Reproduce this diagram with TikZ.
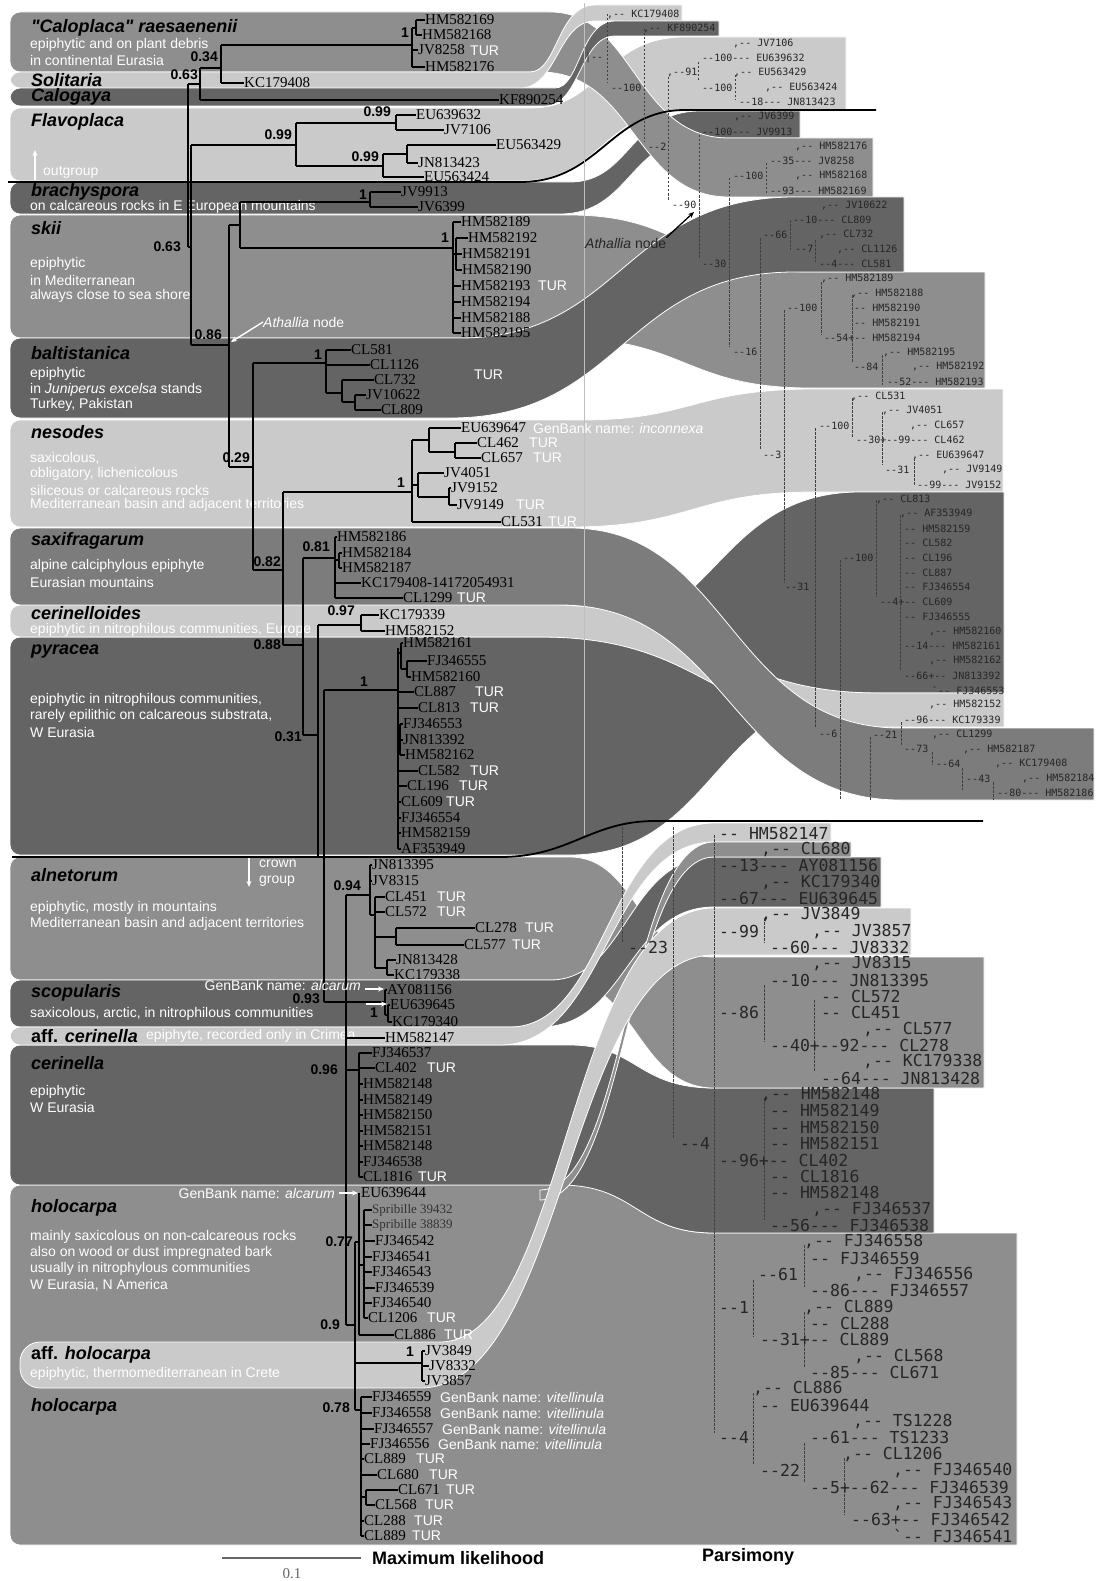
\documentclass[tikz,border=0pt]{standalone}
\usepackage{fontspec}
\setmainfont{Liberation Serif}
\newfontfamily\sansf{Liberation Sans}
\newfontfamily\monof[Ligatures=TeXOff]{DejaVu Sans Mono}
\usetikzlibrary{arrows.meta}
\definecolor{bandD}{RGB}{100,100,100}
\definecolor{bandM}{RGB}{142,142,142}
\definecolor{bandS}{RGB}{124,124,124}
\definecolor{bandL}{RGB}{202,202,202}
\newcounter{autonode}
\newcommand\tipl[4]{\node[tip] (#1) at (#2,#3) {#4};}
\newcommand\tur[2]{\stepcounter{autonode}\node[turs] (tur\arabic{autonode}) at (#1,#2) {TUR};}
\newcommand\spv[3]{\stepcounter{autonode}\node[supp] (sv\arabic{autonode}) at (#1,#2) {#3};}
\newcommand\pss[3]{\stepcounter{autonode}\node[pms] (ps\arabic{autonode}) at (#1,{14+14.7*#2}) {#3};}
\newcommand\plg[3]{\stepcounter{autonode}\node[pml] (pl\arabic{autonode}) at (#1,{833+16.35*#2}) {#3};}
\newcommand\sbt[3]{\stepcounter{autonode}\node[subt] (sb\arabic{autonode}) at (#1,#2) {#3};}
\newcommand\ctitle[3]{\stepcounter{autonode}\node[ttls] (tt\arabic{autonode}) at (#1,#2) {#3};}
\newcommand\gbk[3]{\stepcounter{autonode}\node[subt] (gb\arabic{autonode}) at (#1,#2) {GenBank name: \textit{#3}};}
\def\ribr{10pt}
\newcommand\rib[9]{%
  \pgfmathsetmacro\xmA{#5+0.5*(#6-#5)}%
  \fill[#1,draw=white,line width=0.8pt] (#5,#3) .. controls (\xmA,#3) and (\xmA,#7) .. (#6,#7) -- (#9,#7) -- (#9,#8) -- (#6,#8) .. controls (\xmA,#8) and (\xmA,#4) .. (#5,#4) [rounded corners=\ribr] -- (#2,#4) -- (#2,#3) -- cycle;}
\begin{document}
\begin{tikzpicture}[x=1pt,y=-1pt,
  br/.style={line width=1.3pt,black},
  tip/.style={anchor=west,inner sep=0pt,font=\fontsize{15}{15}\selectfont},
  tipsm/.style={anchor=west,inner sep=0pt,text=black!80,font=\fontsize{13}{13}\selectfont},
  turs/.style={anchor=west,inner sep=0pt,text=white,font=\sansf\fontsize{14}{14}\selectfont},
  supp/.style={anchor=east,inner sep=0pt,font=\sansf\bfseries\fontsize{14}{14}\selectfont},
  ttls/.style={anchor=west,inner sep=0pt,font=\sansf\bfseries\itshape\fontsize{18}{18}\selectfont},
  subt/.style={anchor=west,inner sep=0pt,text=white,font=\sansf\fontsize{14}{14}\selectfont},
  pms/.style={anchor=west,inner sep=0pt,text=black!85,font=\monof\fontsize{10}{10}\selectfont},
  pml/.style={anchor=west,inner sep=0pt,text=black!85,font=\monof\fontsize{16.5}{16.5}\selectfont},
  pd/.style={black!75,line width=0.9pt,dash pattern=on 2.5pt off 1.5pt},
  wa/.style={white,line width=1.4pt,-{Stealth[length=6pt,width=5pt]}},
  bigl/.style={anchor=west,inner sep=0pt,font=\sansf\bfseries\fontsize{18}{18}\selectfont}]
\useasboundingbox (0,0) rectangle (1101,1581);
\fill[white] (0,0) rectangle (1101,1581);
% ---------- bands and ribbons ----------
\rib{bandL}{10}{108}{181}{520}{685}{37}{110}{846}
\rib{bandD}{10}{182}{214}{560}{700}{111}{138}{800}
\rib{bandM}{10}{12}{72}{540}{729}{138}{197}{873}
\rib{bandL}{10}{72}{88}{520}{595}{5}{21}{682}
\rib{bandD}{10}{88}{106}{545}{615}{21}{36}{719}
\rib{bandM}{10}{215}{338}{560}{810}{272}{388}{985}
\rib{bandD}{10}{338}{418}{450}{795}{197}{272}{904}
\rib{bandL}{10}{420}{527}{570}{815}{389}{492}{1003}
\rib{bandD}{10}{637}{855}{570}{860}{492}{693}{1004}
\rib{bandL}{10}{605}{637}{540}{880}{693}{727}{1004}
\rib{bandS}{10}{528}{605}{560}{900}{728}{800}{1094}
\rib{bandM}{10}{1185}{1545}{560}{714}{1233}{1545}{1017}
\rib{bandD}{10}{1045}{1185}{560}{714}{1088}{1233}{934}
\rib{bandM}{10}{857}{980}{560}{714}{957}{1088}{984}
\rib{bandD}{10}{980}{1027}{540}{714}{857}{907}{881}
\rib{bandL}{10}{1027}{1045}{500}{714}{823}{842}{831}
\fill[bandM,draw=white,line width=0.8pt] (540,1190) .. controls (627,1190) and (627,842) .. (714,842) -- (851,842) -- (851,857) -- (714,857) .. controls (627,857) and (627,1200) .. (540,1200) -- cycle;
\def\ribr{20pt}
\rib{bandL}{20}{1342}{1388}{420}{714}{908}{955}{911}
\def\ribr{10pt}
% boundary lines
\draw[line width=1.8pt] (8,182) -- (520,182) .. controls (600,182) and (610,110) .. (685,110) -- (876,110);
\draw[line width=1.8pt] (12,857) -- (500,857) .. controls (570,857) and (590,821) .. (655,821) -- (983,821);
\draw[black!25,line width=0.8pt] (584,3) -- (584,835);
% ---------- titles ----------
\ctitle{31}{28}{"Caloplaca" raesaenenii}
\ctitle{31}{80}{Solitaria}
\ctitle{31}{97}{Calogaya}
\ctitle{31}{122}{Flavoplaca}
\ctitle{31}{192}{brachyspora}
\ctitle{31}{228}{skii}
\ctitle{31}{353}{baltistanica}
\ctitle{31}{432}{nesodes}
\ctitle{31}{541}{saxifragarum}
\ctitle{31}{613}{cerinelloides}
\ctitle{31}{652}{pyracea}
\ctitle{31}{875}{alnetorum}
\ctitle{31}{993}{scopularis}
\ctitle{31}{1036}{{\upshape aff.} cerinella}
\ctitle{31}{1063}{cerinella}
\ctitle{31}{1208}{holocarpa}
\ctitle{31}{1355}{{\upshape aff.} holocarpa}
\ctitle{31}{1407}{holocarpa}
% ---------- descriptions ----------
\sbt{30}{45}{epiphytic and on plant debris}
\sbt{30}{60}{in continental Eurasia}
\sbt{30}{207}{on calcareous rocks in E European mountains}
\sbt{30}{264}{epiphytic}
\sbt{30}{280}{in Mediterranean}
\sbt{30}{296}{always close to sea shore}
\sbt{30}{374}{epiphytic}
\sbt{30}{390}{in \textit{Juniperus excelsa} stands}
\sbt{30}{405}{Turkey, Pakistan}
\sbt{30}{458}{saxicolous,}
\sbt{30}{474}{obligatory, lichenicolous}
\sbt{30}{490}{siliceous or calcareous rocks}
\sbt{30}{505}{Mediterranean basin and adjacent territories}
\sbt{30}{566}{alpine calciphylous epiphyte}
\sbt{30}{582}{Eurasian mountains}
\sbt{30}{630}{epiphytic in nitrophilous communities, Europe}
\sbt{30}{700}{epiphytic in nitrophilous communities,}
\sbt{30}{716}{rarely epilithic on calcareous substrata,}
\sbt{30}{732}{W Eurasia}
\sbt{30}{908}{epiphytic, mostly in mountains}
\sbt{30}{924}{Mediterranean basin and adjacent territories}
\sbt{30}{1014}{saxicolous, arctic, in nitrophilous communities}
\sbt{146}{1036}{epiphyte, recorded only in Crimea}
\sbt{30}{1092}{epiphytic}
\sbt{30}{1107}{W Eurasia}
\sbt{30}{1237}{mainly saxicolous on non-calcareous rocks}
\sbt{30}{1253}{also on wood or dust impregnated bark}
\sbt{30}{1269}{usually in nitrophylous communities}
\sbt{30}{1285}{W Eurasia, N America}
\sbt{30}{1374}{epiphytic, thermomediterranean in Crete}
% annotations
\sbt{43}{172}{outgroup}
\draw[wa] (35,180) -- (35,150);
\sbt{259}{864}{crown}
\sbt{259}{881}{group}
\draw[wa] (249,858) -- (249,887);
\node[subt] (athL) at (263,322) {\textit{Athallia} node};
\draw[wa] (athL.west) -- (231,342);
\node[subt,text=black!85] (athR) at (585,243) {\textit{Athallia} node};
\draw[line width=1.3pt,-{Stealth[length=6pt,width=5pt]}] (athR.north east) -- (694,212);
% ---------- ML tree: outgroup ----------
\tipl{a1}{425}{20}{HM582169}
\tipl{a2}{422}{35}{HM582168}
\tipl{a3}{418}{50}{JV8258}\tur{470}{51}
\tipl{a4}{425}{67}{HM582176}
\tipl{a5}{244}{83}{KC179408}
\tipl{a6}{499}{100}{KF890254}
\draw[br] (188,84)--(188,247) (188,84)--(200,84) (200,68)--(200,100) (200,68)--(221,68) (221,45)--(221,83) (221,45)--(412,45) (412,28)--(412,67) (412,28)--(416,28) (416,20)--(416,35);
\draw[br] (416,20)--(a1.west) (416,35)--(a2.west) (412,50)--(a3.west) (412,67)--(a4.west) (221,83)--(a5.west) (200,100)--(a6.west);
\spv{409}{33}{1}\spv{218}{57}{0.34}\spv{198}{75}{0.63}
% Flavoplaca
\tipl{f1}{416}{115}{EU639632}
\tipl{f2}{444}{130}{JV7106}
\tipl{f3}{496}{145}{EU563429}
\tipl{f4}{418}{163}{JN813423}
\tipl{f5}{424}{177}{EU563424}
\draw[br] (188,247)--(191,247) (191,145)--(191,345) (191,145)--(296,145) (296,123)--(296,166) (296,123)--(396,123) (396,115)--(396,130) (296,166)--(383,166) (383,154)--(383,177) (383,154)--(407,154) (407,145)--(407,163);
\draw[br] (396,115)--(f1.west) (396,130)--(f2.west) (407,145)--(f3.west) (407,163)--(f4.west) (383,177)--(f5.west);
\spv{181}{247}{0.63}\spv{292}{135}{0.99}\spv{391}{112}{0.99}\spv{379}{157}{0.99}
% brachyspora + skii
\tipl{b1}{401}{192}{JV9913}
\tipl{b2}{418}{207}{JV6399}
\tipl{s1}{461}{222}{HM582189}
\tipl{s2}{468}{238}{HM582192}
\tipl{s3}{462}{254}{HM582191}
\tipl{s4}{462}{270}{HM582190}
\tipl{s5}{461}{286}{HM582193}\tur{538}{286}
\tipl{s6}{461}{302}{HM582194}
\tipl{s7}{461}{318}{HM582188}
\tipl{s8}{461}{333}{HM582195}
\draw[br] (191,345)--(229,345) (229,225)--(229,467) (229,225)--(240,225) (240,202)--(240,248) (240,202)--(370,202) (370,192)--(370,207) (240,248)--(453,248) (453,222)--(453,333) (453,254)--(456,254) (456,238)--(456,270);
\draw[br] (370,192)--(b1.west) (370,207)--(b2.west) (453,222)--(s1.west) (456,238)--(s2.west) (456,254)--(s3.west) (456,270)--(s4.west) (453,286)--(s5.west) (453,302)--(s6.west) (453,318)--(s7.west) (453,333)--(s8.west);
\spv{367}{195}{1}\spv{449}{238}{1}\spv{222}{335}{0.86}
% baltistanica
\tipl{c1}{351}{350}{CL581}
\tipl{c2}{370}{365}{CL1126}
\tipl{c3}{374}{380}{CL732}
\tipl{c4}{366}{395}{JV10622}
\tipl{c5}{381}{410}{CL809}
\tur{474}{375}
\draw[br] (229,467)--(253,467) (253,363)--(253,570) (253,363)--(326,363) (326,350)--(326,393) (326,393)--(342,393) (342,380)--(342,402) (342,402)--(355,402) (355,395)--(355,410);
\draw[br] (326,350)--(c1.west) (326,365)--(c2.west) (342,380)--(c3.west) (355,395)--(c4.west) (355,410)--(c5.west);
\spv{250}{458}{0.29}\spv{322}{355}{1}
% nesodes
\tipl{n1}{461}{428}{EU639647}\gbk{533}{428}{inconnexa}
\tipl{n2}{477}{443}{CL462}\tur{529}{443}
\tipl{n3}{481}{458}{CL657}\tur{533}{458}
\tipl{n4}{444}{473}{JV4051}
\tipl{n5}{451}{488}{JV9152}
\tipl{n6}{457}{505}{JV9149}\tur{516}{505}
\tipl{n7}{501}{522}{CL531}\tur{548}{522}
\draw[br] (253,570)--(283,570) (283,492)--(283,645) (283,492)--(412,492) (412,440)--(412,522) (412,440)--(429,440) (429,428)--(429,452) (429,452)--(455,452) (455,443)--(455,458) (412,485)--(418,485) (418,473)--(418,497) (418,497)--(449,497) (449,488)--(449,505);
\draw[br] (429,428)--(n1.west) (455,443)--(n2.west) (455,458)--(n3.west) (418,473)--(n4.west) (449,488)--(n5.west) (449,505)--(n6.west) (412,522)--(n7.west);
\spv{281}{562}{0.82}\spv{405}{483}{1}
% saxifragarum
\tipl{x1}{337}{537}{HM582186}
\tipl{x2}{342}{553}{HM582184}
\tipl{x3}{342}{568}{HM582187}
\tipl{x4}{361}{583}{KC179408-14172054931}
\tipl{x5}{403}{598}{CL1299}\tur{457}{598}
\draw[br] (283,645)--(303,645) (303,558)--(303,735) (303,558)--(335,558) (335,537)--(335,598) (335,560)--(339,560) (339,553)--(339,568);
\draw[br] (335,537)--(x1.west) (339,553)--(x2.west) (339,568)--(x3.west) (335,583)--(x4.west) (335,598)--(x5.west);
\spv{281}{645}{0.88}\spv{330}{547}{0.81}
% cerinelloides + pyracea
\tipl{e1}{379}{615}{KC179339}
\tipl{e2}{385}{631}{HM582152}
\draw[br] (303,735)--(318,735) (318,625)--(318,857) (318,625)--(361,625) (361,615)--(361,631) (361,615)--(e1.west) (361,631)--(e2.west);
\spv{302}{737}{0.31}\spv{355}{611}{0.97}
\tipl{p1}{403}{643}{HM582161}
\tipl{p2}{427}{661}{FJ346555}
\tipl{p3}{411}{677}{HM582160}
\tipl{p4}{414}{692}{CL887}\tur{475}{692}
\tipl{p5}{418}{708}{CL813}\tur{470}{708}
\tipl{p6}{403}{724}{FJ346553}
\tipl{p7}{403}{740}{JN813392}
\tipl{p8}{405}{755}{HM582162}
\tipl{p9}{418}{771}{CL582}\tur{470}{771}
\tipl{p10}{407}{786}{CL196}\tur{459}{786}
\tipl{p11}{401}{802}{CL609}\tur{446}{802}
\tipl{p12}{401}{818}{FJ346554}
\tipl{p13}{401}{833}{HM582159}
\tipl{p14}{401}{849}{AF353949}
\draw[br] (324,690)--(324,1002) (324,690)--(398,690) (398,648)--(398,849) (398,653)--(401,653) (401,643)--(401,669) (401,669)--(407,669) (407,661)--(407,677) (398,740)--(400,740) (400,724)--(400,755);
\draw[br] (401,643)--(p1.west) (407,661)--(p2.west) (407,677)--(p3.west) (398,692)--(p4.west) (398,708)--(p5.west) (400,724)--(p6.west) (400,740)--(p7.west) (400,755)--(p8.west) (398,771)--(p9.west) (398,786)--(p10.west) (398,802)--(p11.west) (398,818)--(p12.west) (398,833)--(p13.west) (398,849)--(p14.west);
\spv{368}{682}{1}
% ---------- crown group ----------
\tipl{g1}{372}{865}{JN813395}
\tipl{g2}{372}{881}{JV8315}
\tipl{g3}{385}{897}{CL451}\tur{437}{897}
\tipl{g4}{385}{912}{CL572}\tur{437}{912}
\tipl{g5}{475}{928}{CL278}\tur{525}{928}
\tipl{g6}{464}{945}{CL577}\tur{512}{945}
\tipl{g7}{396}{960}{JN813428}
\tipl{g8}{394}{975}{KC179338}
\draw[br] (324,1002)--(385,1002) (346,895)--(346,1325) (346,895)--(370,895) (370,865)--(370,915) (370,915)--(375,915) (375,897)--(375,968) (375,937)--(396,937) (396,928)--(396,945) (375,968)--(387,968) (387,960)--(387,975);
\draw[br] (370,865)--(g1.west) (370,881)--(g2.west) (375,897)--(g3.west) (375,912)--(g4.west) (396,928)--(g5.west) (396,945)--(g6.west) (387,960)--(g7.west) (387,975)--(g8.west);
\spv{320}{999}{0.93}\spv{361}{886}{0.94}
% scopularis
\tipl{h1}{387}{990}{AY081156}
\tipl{h2}{390}{1005}{EU639645}
\tipl{h3}{392}{1022}{KC179340}
\draw[br] (385,990)--(385,1015) (385,1015)--(388,1015) (388,1005)--(388,1022) (385,990)--(h1.west) (388,1005)--(h2.west) (388,1022)--(h3.west);
\node[subt,anchor=east] (gbs) at (361,985) {GenBank name: \textit{alcarum}};
\draw[wa] (365,989) -- (384,989);
\draw[wa] (366,1004) -- (387,1004);
\spv{378}{1013}{1}
% aff. cerinella
\tipl{k1}{385}{1038}{HM582147}
\draw[br] (346,1038)--(k1.west);
% cerinella
\tipl{m1}{372}{1053}{FJ346537}
\tipl{m2}{375}{1068}{CL402}\tur{427}{1068}
\tipl{m3}{363}{1084}{HM582148}
\tipl{m4}{363}{1100}{HM582149}
\tipl{m5}{363}{1115}{HM582150}
\tipl{m6}{363}{1131}{HM582151}
\tipl{m7}{363}{1146}{HM582148}
\tipl{m8}{363}{1162}{FJ346538}
\tipl{m9}{363}{1177}{CL1816}\tur{418}{1177}
\draw[br] (346,1070)--(359,1070) (359,1053)--(359,1177);
\draw[br] (359,1053)--(m1.west) (359,1068)--(m2.west) (359,1084)--(m3.west) (359,1100)--(m4.west) (359,1115)--(m5.west) (359,1131)--(m6.west) (359,1146)--(m7.west) (359,1162)--(m8.west) (359,1177)--(m9.west);
\spv{338}{1070}{0.96}
% holocarpa
\tipl{q0}{361}{1193}{EU639644}
\node[subt,anchor=east] (gbh) at (335,1193) {GenBank name: \textit{alcarum}};
\draw[wa] (339,1193) -- (358,1193);
\node[tipsm] (q1) at (372,1210) {Spribille 39432};
\node[tipsm] (q2) at (372,1225) {Spribille 38839};
\tipl{q3}{375}{1241}{FJ346542}
\tipl{q4}{372}{1257}{FJ346541}
\tipl{q5}{372}{1272}{FJ346543}
\tipl{q6}{375}{1288}{FJ346539}
\tipl{q7}{372}{1303}{FJ346540}
\tipl{q8}{368}{1318}{CL1206}\tur{427}{1318}
\tipl{q9}{394}{1335}{CL886}\tur{444}{1335}
\draw[br] (346,1325)--(355,1325) (355,1242)--(355,1410) (355,1242)--(359,1242) (359,1193)--(359,1335) (359,1265)--(364,1265) (364,1210)--(364,1318);
\draw[br] (364,1210)--(q1.west) (364,1225)--(q2.west) (364,1241)--(q3.west) (364,1257)--(q4.west) (364,1272)--(q5.west) (364,1288)--(q6.west) (364,1303)--(q7.west) (364,1318)--(q8.west) (359,1335)--(q9.west);
\spv{340}{1325}{0.9}\spv{353}{1242}{0.77}
% aff. holocarpa
\tipl{r1}{425}{1351}{JV3849}
\tipl{r2}{429}{1366}{JV8332}
\tipl{r3}{425}{1381}{JV3857}
\draw[br] (355,1363)--(422,1363) (422,1351)--(422,1381) (422,1351)--(r1.west) (422,1366)--(r2.west) (422,1381)--(r3.west);
\spv{414}{1352}{1}
% holocarpa lower
\tipl{o1}{372}{1397}{FJ346559}\gbk{440}{1397}{vitellinula}
\tipl{o2}{372}{1413}{FJ346558}\gbk{440}{1413}{vitellinula}
\tipl{o3}{374}{1429}{FJ346557}\gbk{442}{1429}{vitellinula}
\tipl{o4}{370}{1444}{FJ346556}\gbk{438}{1444}{vitellinula}
\tipl{o5}{364}{1459}{CL889}\tur{416}{1459}
\tipl{o6}{377}{1475}{CL680}\tur{429}{1475}
\tipl{o7}{398}{1490}{CL671}\tur{446}{1490}
\tipl{o8}{375}{1505}{CL568}\tur{425}{1505}
\tipl{o9}{364}{1521}{CL288}\tur{414}{1521}
\tipl{o10}{364}{1536}{CL889}\tur{412}{1536}
\draw[br] (355,1410)--(361,1410) (361,1397)--(361,1536) (361,1497)--(366,1497) (366,1490)--(366,1505);
\draw[br] (361,1397)--(o1.west) (361,1413)--(o2.west) (361,1429)--(o3.west) (361,1444)--(o4.west) (361,1459)--(o5.west) (361,1475)--(o6.west) (366,1490)--(o7.west) (366,1505)--(o8.west) (361,1521)--(o9.west) (361,1536)--(o10.west);
\spv{350}{1408}{0.78}
% scale bar and captions
\draw[black!60,line width=1.5pt] (222,1558) -- (361,1558);
\node[text=black!60,font=\fontsize{15}{15}\selectfont] (sc) at (292,1574) {0.1};
\node[bigl] (mlt) at (372,1558) {Maximum likelihood};
\node[bigl] (pst) at (702,1557) {Parsimony};
% ---------- parsimony tree ----------
\pss{607}{0}{,-- KC179408}
\pss{643}{1}{,-- KF890254}
\pss{733}{2}{,-- JV7106}
\pss{585}{3}{|--}
\pss{702}{3}{--100--- EU639632}
\pss{667}{4}{,--91}
\pss{734}{4}{,-- EU563429}
\pss{611}{5}{--100}
\pss{702}{5}{--100}
\pss{765}{5}{,-- EU563424}
\pss{739}{6}{--18--- JN813423}
\pss{734}{7}{,-- JV6399}
\pss{702}{8}{--100--- JV9913}
\pss{648}{9}{--2}
\pss{795}{9}{,-- HM582176}
\pss{770}{10}{--35--- JV8258}
\pss{733}{11}{--100}
\pss{795}{11}{,-- HM582168}
\pss{770}{12}{--93--- HM582169}
\pss{672}{13}{--90}
\pss{821}{13}{,-- JV10622}
\pss{793}{14}{--10--- CL809}
\pss{763}{15}{--66}
\pss{819}{15}{,-- CL732}
\pss{795}{16}{--7}
\pss{837}{16}{,-- CL1126}
\pss{702}{17}{--30}
\pss{819}{17}{--4--- CL581}
\pss{821}{18}{,-- HM582189}
\pss{851}{19}{,-- HM582188}
\pss{787}{20}{--100}
\pss{854}{20}{-- HM582190}
\pss{854}{21}{-- HM582191}
\pss{824}{22}{--54+-- HM582194}
\pss{733}{23}{--16}
\pss{883}{23}{,-- HM582195}
\pss{854}{24}{--84}
\pss{912}{24}{,-- HM582192}
\pss{887}{25}{--52--- HM582193}
\pss{851}{26}{,-- CL531}
\pss{882}{27}{,-- JV4051}
\pss{819}{28}{--100}
\pss{910}{28}{,-- CL657}
\pss{856}{29}{--30+--99--- CL462}
\pss{763}{30}{--3}
\pss{912}{30}{,-- EU639647}
\pss{885}{31}{--31}
\pss{942}{31}{,-- JV9149}
\pss{917}{32}{--99--- JV9152}
\pss{876}{33}{,-- CL813}
\pss{900}{34}{,-- AF353949}
\pss{904}{35}{-- HM582159}
\pss{904}{36}{-- CL582}
\pss{843}{37}{--100}
\pss{904}{37}{-- CL196}
\pss{904}{38}{-- CL887}
\pss{785}{39}{--31}
\pss{904}{39}{-- FJ346554}
\pss{880}{40}{--4+-- CL609}
\pss{904}{41}{-- FJ346555}
\pss{929}{42}{,-- HM582160}
\pss{904}{43}{--14--- HM582161}
\pss{929}{44}{,-- HM582162}
\pss{904}{45}{--66+-- JN813392}
\pss{932}{46}{`-- FJ346553}
\pss{929}{47}{,-- HM582152}
\pss{904}{48}{--96--- KC179339}
\pss{819}{49}{--6}
\pss{873}{49}{--21}
\pss{932}{49}{,-- CL1299}
\pss{904}{50}{--73}
\pss{963}{50}{,-- HM582187}
\pss{936}{51}{--64}
\pss{995}{51}{,-- KC179408}
\pss{966}{52}{--43}
\pss{1022}{52}{,-- HM582184}
\pss{997}{53}{--80--- HM582186}
\foreach \px/\pa/\pb in {607/14/83,644/29/142,668/77/200,698/62/82,699/135/258,735/75/100,729/178/347,766/163/193,760/238/450,790/220/250,815/240/262,821/282/335,784/310/583,852/295/362,882/355/385,852/398/438,882/412/465,914/458/485,815/428/728,876/500/597,900/515/670,840/560/800,870/737/800,901/722/745,932/752/765,962/768/790,993/782/800,622/827/943,673/827/1138,714/835/1433,764/918/943,764/985/1042,814/1000/1072,764/1098/1220,753/1280/1337,804/1245/1287,804/1312/1368,753/1393/1465,804/1443/1483,844/1458/1515}
  \draw[pd] (\px,\pa) -- (\px,\pb);
\plg{719}{0}{-- HM582147}
\plg{761}{1}{,-- CL680}
\plg{719}{2}{--13--- AY081156}
\plg{761}{3}{,-- KC179340}
\plg{719}{4}{--67--- EU639645}
\plg{761}{5}{,-- JV3849}
\plg{719}{6}{--99}
\plg{812}{6}{,-- JV3857}
\plg{628}{7}{--23}
\plg{770}{7}{--60--- JV8332}
\plg{812}{8}{,-- JV8315}
\plg{770}{9}{--10--- JN813395}
\plg{821}{10}{-- CL572}
\plg{719}{11}{--86}
\plg{821}{11}{-- CL451}
\plg{863}{12}{,-- CL577}
\plg{770}{13}{--40+--92--- CL278}
\plg{863}{14}{,-- KC179338}
\plg{821}{15}{--64--- JN813428}
\plg{761}{16}{,-- HM582148}
\plg{770}{17}{-- HM582149}
\plg{770}{18}{-- HM582150}
\plg{680}{19}{--4}
\plg{770}{19}{-- HM582151}
\plg{719}{20}{--96+-- CL402}
\plg{770}{21}{-- CL1816}
\plg{770}{22}{-- HM582148}
\plg{812}{23}{,-- FJ346537}
\plg{770}{24}{--56--- FJ346538}
\plg{804}{25}{,-- FJ346558}
\plg{810}{26}{-- FJ346559}
\plg{758}{27}{--61}
\plg{854}{27}{,-- FJ346556}
\plg{810}{28}{--86--- FJ346557}
\plg{719}{29}{--1}
\plg{804}{29}{,-- CL889}
\plg{810}{30}{-- CL288}
\plg{760}{31}{--31+-- CL889}
\plg{854}{32}{,-- CL568}
\plg{810}{33}{--85--- CL671}
\plg{753}{34}{,-- CL886}
\plg{760}{35}{-- EU639644}
\plg{853}{36}{,-- TS1228}
\plg{719}{37}{--4}
\plg{810}{37}{--61--- TS1233}
\plg{843}{38}{,-- CL1206}
\plg{760}{39}{--22}
\plg{893}{39}{,-- FJ346540}
\plg{810}{40}{--5+--62--- FJ346539}
\plg{893}{41}{,-- FJ346543}
\plg{851}{42}{--63+-- FJ346542}
\plg{893}{43}{`-- FJ346541}
\end{tikzpicture}
\end{document}
